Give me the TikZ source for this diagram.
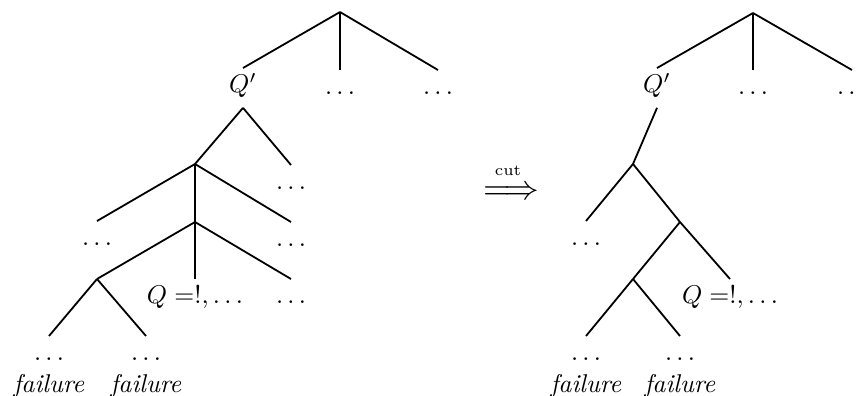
\documentclass[tikz,border=0pt]{standalone}
\usepackage{amsmath, amssymb}
\usepackage{tikz}
\usetikzlibrary{positioning}

\begin{document}
\begin{tikzpicture}[
			x=0.01367cm, y=-0.01367cm,
			branch/.style={line width=0.7pt},
			lbl/.style={inner xsep=0pt, inner ysep=2.3pt, text height=7pt, text depth=2pt, anchor=north},
			fail/.style={inner sep=0pt, text height=7pt, text depth=2pt}
			]
			\useasboundingbox (0,0) rectangle (861,395);
			
			% --- Lewe drzewo: wezly ---
			\node[coordinate] (lroot) at (340,12) {};
			\node[lbl, text depth=3.5pt] (lq) at (243,68) {$Q'$};
			\node[lbl] (ld1) at (340,70) {$\ldots$};
			\node[lbl] (ld2) at (438,70) {$\ldots$};
			\node[coordinate] (la) at (195,164) {};
			\node[lbl] (ld3) at (291,165) {$\ldots$};
			\node[lbl] (ld4) at (97,221) {$\ldots$};
			\node[coordinate] (lb) at (195,222) {};
			\node[lbl] (ld5) at (291,222) {$\ldots$};
			\node[coordinate] (lc) at (97,279) {};
			\node[lbl] (lcut) at (195,279) {$Q=!,\ldots$};
			\node[lbl] (ld6) at (291,279) {$\ldots$};
			\node[lbl] (ld7) at (49,336) {$\ldots$};
			\node[lbl] (ld8) at (146,336) {$\ldots$};
			\node[fail, below=0.6pt of ld7] (lf1) {\textit{failure}};
			\node[fail, below=0.6pt of ld8] (lf2) {\textit{failure}};
			
			% --- Lewe drzewo: galezie ---
			\draw[branch] (lroot) -- (lq.north);
			\draw[branch] (lroot) -- (ld1.north);
			\draw[branch] (lroot) -- (ld2.north);
			\draw[branch] (lq.south) -- (la);
			\draw[branch] (lq.south) -- (ld3.north);
			\draw[branch] (la) -- (ld4.north);
			\draw[branch] (la) -- (lb);
			\draw[branch] (la) -- (ld5.north);
			\draw[branch] (lb) -- (lc);
			\draw[branch] (lb) -- (lcut.north);
			\draw[branch] (lb) -- (ld6.north);
			\draw[branch] (lc) -- (ld7.north);
			\draw[branch] (lc) -- (ld8.north);
			
			% --- Strzalka ciecia ---
			\node[inner sep=0pt, xscale=1.35, yscale=1.35] (arrow) at (511,193) {$\Longrightarrow$};
			\node[inner sep=0pt, anchor=base] (arrowlbl) at (508,175) {\fontsize{6}{7}\selectfont cut};
			
			% --- Prawe drzewo: wezly ---
			\node[coordinate] (rroot) at (753,13) {};
			\node[lbl, text depth=3.5pt] (rq) at (657,68) {$Q'$};
			\node[lbl] (rd1) at (753,70) {$\ldots$};
			\node[lbl] (rd2) at (852,70) {$\ldots$};
			\node[coordinate] (rd) at (633,164) {};
			\node[lbl] (rd3) at (586,221) {$\ldots$};
			\node[coordinate] (re) at (680,222) {};
			\node[coordinate] (rf) at (633,279) {};
			\node[lbl] (rcut) at (730,279) {$Q=!,\ldots$};
			\node[lbl] (rd4) at (586,336) {$\ldots$};
			\node[lbl] (rd5) at (680,336) {$\ldots$};
			\node[fail, below=0.6pt of rd4] (rf1) {\textit{failure}};
			\node[fail, below=0.6pt of rd5] (rf2) {\textit{failure}};
			
			% --- Prawe drzewo: galezie ---
			\draw[branch] (rroot) -- (rq.north);
			\draw[branch] (rroot) -- (rd1.north);
			\draw[branch] (rroot) -- (rd2.north);
			\draw[branch] (rq.south) -- (rd);
			\draw[branch] (rd) -- (rd3.north);
			\draw[branch] (rd) -- (re);
			\draw[branch] (re) -- (rf);
			\draw[branch] (re) -- (rcut.north);
			\draw[branch] (rf) -- (rd4.north);
			\draw[branch] (rf) -- (rd5.north);
			
		\end{tikzpicture}
\end{document}
